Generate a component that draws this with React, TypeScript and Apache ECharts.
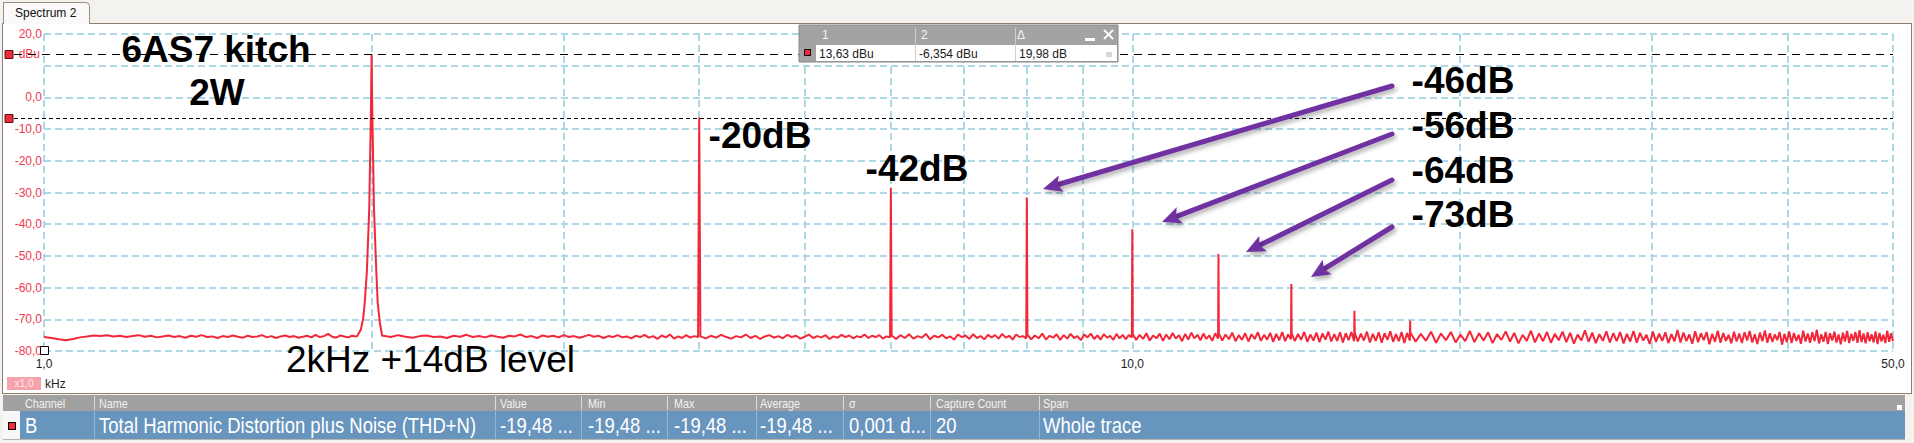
import React, { useEffect, useRef } from 'react';
import * as echarts from 'echarts';

// ---------- axes ----------
const X_MIN_KHZ = 1;
const X_MAX_KHZ = 50;
const X_GRID_KHZ = [1, 2, 3, 4, 5, 6, 7, 8, 9, 10, 20, 30, 40, 50];
const X_LABEL_KHZ = [1, 10, 50];
const X_UNIT = 'kHz';
const X_SCALE_TAG = 'x1,0';
const Y_MIN = -80;
const Y_MAX = 20;
const Y_STEP = 10;
const Y_HIDDEN_LABEL = 10;
const Y_UNIT = 'dBu';

// ---------- spectrum (kHz, dBu) ----------
const FUNDAMENTAL_KHZ = [1.94, 1.955, 1.965, 1.971, 1.98, 1.99, 1.997, 2.0, 2.003, 2.01, 2.02, 2.026, 2.035, 2.045];
const FUNDAMENTAL_DBU = [-75.3, -73.2, -69.5, -64.8, -55, -35, -5, 13.63, -5, -35, -55, -64.8, -71, -75.2];
const HARMONIC_KHZ = [4, 6, 8, 10, 12, 14, 16, 18];
const HARMONIC_DBU = [-6.354, -28.5, -31.6, -41.6, -49.4, -58.9, -67.3, -70.4];

const NOISE_BANDS_KHZ = [
  [1.0, 1.935], [2.05, 3.99], [4.01, 5.99], [6.01, 7.99], [8.01, 9.99],
  [10.01, 11.99], [12.01, 13.99], [14.01, 15.99], [16.01, 17.99], [18.01, 50],
];
const NOISE_1 = [-75.6, -75.9, -76.3, -76.6, -76.2, -75.7, -75.4, -75.1, -75.3, -75.0, -75.4, -75.2, -75.6, -75.3, -75.0, -75.5, -75.2, -75.7, -75.4, -75.1, -75.6, -75.3, -75.8, -75.2, -75.5, -75.0, -75.6, -75.4, -75.9, -75.3, -75.6, -75.1, -75.5, -75.8, -75.2, -75.6, -75.4, -75.0, -75.7, -75.3, -75.9, -75.4, -75.1, -75.6, -75.3, -75.8, -75.5, -75.2, -75.7, -74.9, -75.6, -75.3, -74.6, -75.5, -75.8, -75.1, -75.4, -75.7, -75.2, -75.4];
const NOISE_2 = [-75.2, -75.6, -75.0, -75.5, -75.8, -75.3, -75.1, -75.6, -75.4, -75.9, -75.2, -75.5, -74.9, -75.6, -75.3, -75.7, -75.1, -75.5, -75.8, -75.2, -75.4, -74.8, -75.6, -75.3, -75.9, -75.1, -75.5, -75.2, -75.7, -75.0, -75.6, -75.3, -75.8, -75.4, -74.9, -75.5, -75.2, -75.9, -75.3, -75.6, -75.0, -75.7, -75.4, -76.0, -75.2, -75.6, -74.9, -75.8, -75.3, -76.2, -75.1, -75.7, -74.8, -76.1, -75.4, -75.9, -75.0, -75.8, -75.3, -75.6];
const NOISE_3 = [-75.4, -76.0, -75.2, -75.8, -74.9, -75.6, -76.1, -75.3, -75.7, -74.8, -75.9, -75.2, -76.2, -75.4, -75.0, -75.8, -75.3, -76.0, -74.9, -75.6, -75.2, -76.1, -75.5, -74.8, -75.9, -75.3, -75.7, -75.0, -76.2, -75.4, -75.8, -74.9, -75.6, -75.1, -76.0, -75.3, -75.7, -74.8, -75.9, -75.2, -75.6, -75.0, -76.1, -75.4, -75.7];
const NOISE_4 = [-75.1, -76.2, -75.0, -75.9, -74.7, -76.1, -75.3, -75.8, -74.6, -76.3, -75.2, -75.7, -74.9, -76.0, -75.4, -76.4, -74.8, -75.6, -75.1, -76.2, -74.7, -75.9, -75.3, -76.3, -74.9, -75.7, -75.0, -76.1, -74.6, -75.8, -75.2, -76.4, -74.8, -75.6, -75.3, -76.0];
const NOISE_5 = [-74.8, -76.3, -75.1, -76.0, -74.5, -76.4, -75.2, -75.8, -74.7, -76.5, -75.0, -76.1, -74.6, -75.9, -75.3, -76.6, -74.8, -75.7, -74.5, -76.2, -75.1, -76.4, -74.7, -75.8, -75.2, -76.5, -74.6, -76.0, -74.9, -76.3, -75.0, -75.7];
const NOISE_6 = [-74.6, -76.5, -74.9, -76.2, -74.4, -76.7, -75.1, -76.0, -74.5, -76.8, -74.8, -76.3, -74.3, -76.1, -75.0, -76.9, -74.6, -76.4, -74.2, -76.0, -74.9, -76.6, -74.5, -76.2, -75.1, -76.8, -74.4, -76.1];
const NOISE_7 = [-74.5, -76.7, -74.8, -76.3, -74.2, -76.9, -75.0, -76.5, -74.4, -77.0, -74.7, -76.2, -74.1, -76.8, -74.9, -76.4, -74.3, -77.1, -74.6, -76.6, -74.0, -76.9, -74.8, -76.3];
const NOISE_8 = [-74.4, -76.9, -74.6, -76.5, -74.0, -77.1, -74.8, -76.7, -74.2, -77.2, -74.5, -76.4, -73.9, -77.0, -74.7, -76.8, -74.1, -77.3, -74.4, -76.6, -74.0, -76.9];
const NOISE_9 = [-74.3, -77.0, -74.5, -76.7, -73.9, -77.3, -74.6, -76.8, -74.1, -77.4, -74.4, -76.5, -73.8, -77.1, -74.7, -76.9, -74.0, -77.5, -74.3, -76.7];
const NOISE_10 = [
  -74.2, -77.1, -74.6, -76.8, -73.9, -77.4, -74.5, -76.6, -74.0, -77.3, -74.8, -76.9, -73.7, -77.2, -74.4, -76.7,
  -74.1, -77.5, -74.7, -76.5, -73.8, -77.0, -74.3, -77.6, -74.9, -76.8, -73.6, -77.3, -74.5, -76.9, -74.0, -77.4,
  -74.6, -76.6, -73.9, -77.2, -74.3, -77.7, -74.8, -76.7, -73.5, -77.1, -74.2, -77.5, -74.7, -76.8, -73.8, -77.3,
  -74.4, -76.9, -74.0, -77.6, -74.6, -77.0, -73.7, -77.4, -74.3, -76.7, -74.9, -77.8, -73.9, -77.1, -74.5, -76.8,
  -74.1, -77.5, -74.7, -77.0, -73.4, -77.3, -74.2, -76.9, -74.8, -77.7, -73.8, -77.2, -74.4, -76.6, -74.0, -77.9,
  -74.6, -77.1, -73.6, -77.4, -74.3, -76.8, -74.9, -77.6, -73.9, -77.0, -74.5, -77.5, -74.1, -76.7, -73.7, -77.3,
  -74.7, -77.8, -74.2, -76.9, -73.5, -77.4, -74.4, -77.1, -74.8, -76.6, -74.0, -78.0, -74.6, -77.2, -73.8, -77.5,
  -74.3, -76.8, -74.9, -77.7, -73.6, -77.0, -74.5, -77.4, -74.1, -76.9, -73.3, -77.6, -74.7, -77.1, -74.0, -77.8,
  -74.4, -76.7, -73.9, -77.3, -74.8, -77.9, -74.2, -77.0, -73.7, -77.5, -74.6, -76.8, -74.0, -77.4, -73.4, -77.2,
  -74.5, -77.6, -74.1, -76.9, -74.7, -77.3, -73.8, -77.8, -74.3, -77.0, -74.9, -77.5, -73.6, -77.1, -74.4, -76.9,
];
const NOISE_VALUES = [NOISE_1, NOISE_2, NOISE_3, NOISE_4, NOISE_5, NOISE_6, NOISE_7, NOISE_8, NOISE_9, NOISE_10];

// ---------- markers / annotations / table ----------
const MARKER_1_DBU = 13.63;
const MARKER_2_DBU = -6.354;
const MARKER_HEADERS = ['1', '2', 'Δ'];
const MARKER_VALUES = ['13,63 dBu', '-6,354 dBu', '19,98 dB'];
const TITLE_LINES = ['6AS7 kitch', '2W'];
const HARMONIC_LABELS = ['-20dB', '-42dB', '-46dB', '-56dB', '-64dB', '-73dB'];
const LEVEL_NOTE = '2kHz +14dB level';
const TAB_TITLE = 'Spectrum 2';
const TABLE_HEADERS = ['Channel', 'Name', 'Value', 'Min', 'Max', 'Average', 'σ', 'Capture Count', 'Span'];
const TABLE_ROW = ['B', 'Total Harmonic Distortion plus Noise (THD+N)', '-19,48 ...', '-19,48 ...', '-19,48 ...', '-19,48 ...', '0,001 d...', '20', 'Whole trace'];

// ---------- styles / layout ----------
const FONT = '"Liberation Sans", Arial, sans-serif';
const TRACE_RED = '#f2283a';
const AXIS_RED = '#f0394c';
const GRID_BLUE = '#add8e6';
const PURPLE = '#7030a0';
const TABLE_COL_X = [25, 99, 500, 588, 674, 760, 849, 936, 1043];
const TABLE_SEP_X = [94, 495, 581, 667, 756, 843, 930, 1039];

function buildSeriesData(): [number, number][] {
  const out: [number, number][] = [];
  NOISE_VALUES.forEach((vals, i) => {
    const [a, b] = NOISE_BANDS_KHZ[i];
    vals.forEach((v, j) => out.push([a + ((b - a) * j) / (vals.length - 1), v]));
    if (i === 0) {
      FUNDAMENTAL_KHZ.forEach((f, k) => out.push([f, FUNDAMENTAL_DBU[k]]));
    } else if (i - 1 < HARMONIC_KHZ.length) {
      out.push([HARMONIC_KHZ[i - 1], HARMONIC_DBU[i - 1]]);
    }
  });
  return out;
}

const fmt = (v: number) => Number(v).toFixed(1).replace('.', ',');

function buildOption(): any {
  return {
    animation: false,
    textStyle: { fontFamily: FONT },
    grid: { left: 44, right: 21, top: 34, bottom: 92, containLabel: false },
    xAxis: {
      type: 'log',
      logBase: 10,
      min: X_MIN_KHZ,
      max: X_MAX_KHZ,
      axisLine: { show: false },
      axisTick: { show: false, customValues: X_GRID_KHZ },
      axisLabel: {
        customValues: X_LABEL_KHZ,
        formatter: (v: number) => fmt(v),
        color: '#1e1e1e',
        fontSize: 12,
        fontFamily: FONT,
        margin: 7,
      },
      splitLine: { show: true, lineStyle: { color: GRID_BLUE, width: 2, type: [7, 4] } },
    },
    yAxis: {
      type: 'value',
      min: Y_MIN,
      max: Y_MAX,
      interval: Y_STEP,
      name: Y_UNIT,
      nameLocation: 'end',
      nameGap: -20,
      nameTextStyle: { color: AXIS_RED, fontSize: 12, fontFamily: FONT, align: 'right', verticalAlign: 'middle', padding: [0, 4, 0, 0] },
      axisLine: { show: false },
      axisTick: { show: false },
      axisLabel: {
        formatter: (v: number) => (v === Y_HIDDEN_LABEL ? '' : fmt(v)),
        color: AXIS_RED,
        fontSize: 12,
        fontFamily: FONT,
        margin: 2,
      },
      splitLine: { show: true, lineStyle: { color: GRID_BLUE, width: 2, type: [7, 4] } },
    },
    series: [
      {
        type: 'line',
        data: buildSeriesData(),
        symbol: 'none',
        showSymbol: false,
        lineStyle: { color: TRACE_RED, width: 2 },
        z: 3,
      },
    ],
  };
}

function buildGraphics(chart: any): any[] {
  const g: any[] = [];
  const left = 14;
  const right = 1893;
  const y1 = chart.convertToPixel({ yAxisIndex: 0 }, MARKER_1_DBU);
  const y2 = chart.convertToPixel({ yAxisIndex: 0 }, MARKER_2_DBU);

  // marker lines + handles
  g.push({ type: 'line', silent: true, z: 20, shape: { x1: left, y1: Math.round(y1) + 0.5, x2: right, y2: Math.round(y1) + 0.5 }, style: { stroke: '#000', lineWidth: 1, lineDash: [8, 6] } });
  g.push({ type: 'line', silent: true, z: 20, shape: { x1: left, y1: Math.round(y2) + 0.5, x2: right, y2: Math.round(y2) + 0.5 }, style: { stroke: '#000', lineWidth: 1, lineDash: [4, 3] } });
  [y1, y2].forEach((y) => {
    g.push({ type: 'rect', silent: true, z: 21, shape: { x: 5, y: Math.round(y) - 3.5, width: 8, height: 8 }, style: { fill: '#ee2a3b', stroke: '#5a1010', lineWidth: 1 } });
  });
  g.push({ type: 'rect', silent: true, z: 21, shape: { x: 40.5, y: 346.5, width: 8, height: 8 }, style: { fill: '#fff', stroke: '#000', lineWidth: 1 } });

  // tab title
  g.push({ type: 'text', silent: true, z: 30, x: 15, y: 13, style: { text: TAB_TITLE, font: `12px ${FONT}`, fill: '#111', textVerticalAlign: 'middle' } });

  // x scale tag + unit
  g.push({ type: 'rect', silent: true, z: 30, shape: { x: 7, y: 377, width: 34, height: 13 }, style: { fill: '#f5a3ab' } });
  g.push({ type: 'text', silent: true, z: 31, x: 24, y: 383.5, style: { text: X_SCALE_TAG, font: `10px ${FONT}`, fill: '#fde9eb', textAlign: 'center', textVerticalAlign: 'middle' } });
  g.push({ type: 'text', silent: true, z: 31, x: 45, y: 384, style: { text: X_UNIT, font: `12px ${FONT}`, fill: '#1e1e1e', textVerticalAlign: 'middle' } });

  // big annotation texts
  const shadow = { shadowBlur: 4, shadowColor: 'rgba(0,0,0,0.45)', shadowOffsetX: 3, shadowOffsetY: 3 };
  const bold = `bold 37px ${FONT}`;
  const titlePos = [[216, 49], [217, 92]];
  TITLE_LINES.forEach((t, i) => {
    g.push({ type: 'text', silent: true, z: 40, x: titlePos[i][0], y: titlePos[i][1], style: { text: t, font: bold, fill: '#000', textAlign: 'center', textVerticalAlign: 'middle', ...shadow } });
  });
  const labelPos = [[760, 135], [917, 168], [1463, 80], [1463, 125], [1463, 170], [1463, 214]];
  HARMONIC_LABELS.forEach((t, i) => {
    g.push({ type: 'text', silent: true, z: 40, x: labelPos[i][0], y: labelPos[i][1], style: { text: t, font: bold, fill: '#000', textAlign: 'center', textVerticalAlign: 'middle', ...shadow } });
  });
  g.push({ type: 'text', silent: true, z: 40, x: 286, y: 359, style: { text: LEVEL_NOTE, font: `37px ${FONT}`, fill: '#000', textVerticalAlign: 'middle' } });

  // arrows
  const arrows = [[1392, 86, 1043, 189], [1392, 134, 1162, 222], [1392, 180, 1246, 252], [1392, 227, 1311, 277]];
  arrows.forEach(([xa, ya, xb, yb]) => {
    const dx = xb - xa, dy = yb - ya, L = Math.hypot(dx, dy), ux = dx / L, uy = dy / L;
    const hl = 19, hw = 8.5;
    const bx = xb - ux * hl, by = yb - uy * hl;
    const ash = { shadowBlur: 4, shadowColor: 'rgba(0,0,0,0.3)', shadowOffsetX: 2, shadowOffsetY: 3 };
    g.push({ type: 'line', silent: true, z: 38, shape: { x1: xa, y1: ya, x2: bx + ux * 4, y2: by + uy * 4 }, style: { stroke: PURPLE, lineWidth: 5, lineCap: 'round', ...ash } });
    g.push({ type: 'polygon', silent: true, z: 38, shape: { points: [[xb, yb], [bx - uy * hw, by + ux * hw], [bx + ux * 4, by + uy * 4], [bx + uy * hw, by - ux * hw]] }, style: { fill: PURPLE, ...ash } });
  });

  // marker readout box
  const bx0 = 799, bx1 = 1118, hy0 = 25, hy1 = 45, ry1 = 62;
  g.push({ type: 'rect', silent: true, z: 50, shape: { x: bx0, y: hy0, width: bx1 - bx0, height: ry1 - hy0 }, style: { fill: '#a3a3a3', stroke: '#8a8a8a', lineWidth: 1 } });
  g.push({ type: 'rect', silent: true, z: 51, shape: { x: 816, y: hy1, width: bx1 - 816 - 1, height: ry1 - hy1 - 1 }, style: { fill: '#ffffff' } });
  [915, 1015].forEach((x) => {
    g.push({ type: 'line', silent: true, z: 52, shape: { x1: x + 0.5, y1: hy0 + 3, x2: x + 0.5, y2: ry1 - 1 }, style: { stroke: '#d0d0d0', lineWidth: 1 } });
  });
  g.push({ type: 'rect', silent: true, z: 52, shape: { x: 804.5, y: 49.5, width: 6, height: 6 }, style: { fill: '#ee2a3b', stroke: '#000', lineWidth: 1 } });
  const hdrX = [822, 921, 1017];
  MARKER_HEADERS.forEach((t, i) => {
    g.push({ type: 'text', silent: true, z: 53, x: hdrX[i], y: 35, style: { text: t, font: `12px ${FONT}`, fill: '#f4f4f4', textVerticalAlign: 'middle' } });
  });
  const valX = [819, 919, 1019];
  MARKER_VALUES.forEach((t, i) => {
    g.push({ type: 'text', silent: true, z: 53, x: valX[i], y: 54, style: { text: t, font: `12px ${FONT}`, fill: '#1a1a1a', textVerticalAlign: 'middle' } });
  });
  g.push({ type: 'rect', silent: true, z: 53, shape: { x: 1085, y: 38, width: 10, height: 3 }, style: { fill: '#fff' } });
  g.push({ type: 'line', silent: true, z: 53, shape: { x1: 1104, y1: 30, x2: 1113, y2: 39 }, style: { stroke: '#fff', lineWidth: 2 } });
  g.push({ type: 'line', silent: true, z: 53, shape: { x1: 1113, y1: 30, x2: 1104, y2: 39 }, style: { stroke: '#fff', lineWidth: 2 } });
  g.push({ type: 'rect', silent: true, z: 53, shape: { x: 1106, y: 52, width: 6, height: 5 }, style: { fill: '#d6d6d6' } });

  // bottom table texts
  TABLE_HEADERS.forEach((t, i) => {
    g.push({ type: 'text', silent: true, z: 30, x: TABLE_COL_X[i], y: 403.5, scaleX: 0.9, style: { text: t, font: `12px ${FONT}`, fill: '#f2f2f2', textVerticalAlign: 'middle' } });
  });
  TABLE_ROW.forEach((t, i) => {
    g.push({ type: 'text', silent: true, z: 30, x: TABLE_COL_X[i], y: 425.5, scaleX: 0.84, style: { text: t, font: `22px ${FONT}`, fill: '#ffffff', textVerticalAlign: 'middle' } });
  });
  return g;
}

export default function App() {
  const ref = useRef<HTMLDivElement>(null);
  useEffect(() => {
    document.body.style.margin = '0';
    const chart = echarts.init(ref.current as HTMLDivElement, null, { renderer: 'svg' });
    chart.setOption(buildOption());
    chart.setOption({ graphic: buildGraphics(chart) });
    return () => chart.dispose();
  }, []);

  const abs = (s: any) => ({ position: 'absolute' as const, ...s });
  return (
    <div style={{ position: 'relative', width: 1914, height: 443, background: '#f3f2ee', overflow: 'hidden' }}>
      <div style={abs({ left: 2, top: 23, width: 1908, height: 369, background: '#ffffff', border: '1px solid #8c7e70' })} />
      <div style={abs({ left: 3, top: 2, width: 85, height: 21, background: '#fafafa', border: '1px solid #9a8d80', borderBottom: 'none', borderTopRightRadius: 5 })} />
      <div style={abs({ left: 3, top: 395, width: 1902, height: 16, background: '#a0a0a0' })} />
      <div style={abs({ left: 3, top: 411, width: 17, height: 28, background: '#f7f7f7' })} />
      <div style={abs({ left: 8, top: 422, width: 6, height: 6, background: '#ee2a3b', border: '1px solid #000' })} />
      <div style={abs({ left: 20, top: 411, width: 1885, height: 28, background: '#6795bd' })} />
      <div style={abs({ left: 3, top: 439, width: 1902, height: 1, background: '#b8b4ac' })} />
      <div style={abs({ left: 1897, top: 405, width: 5, height: 5, background: '#ffffff' })} />
      {TABLE_SEP_X.map((x) => (
        <React.Fragment key={x}>
          <div style={abs({ left: x, top: 396, width: 1, height: 14, background: '#dcdcdc' })} />
          <div style={abs({ left: x, top: 411, width: 1, height: 28, background: '#94b4d2' })} />
        </React.Fragment>
      ))}
      <div ref={ref} style={abs({ left: 0, top: 0, width: 1914, height: 443 })} />
    </div>
  );
}
